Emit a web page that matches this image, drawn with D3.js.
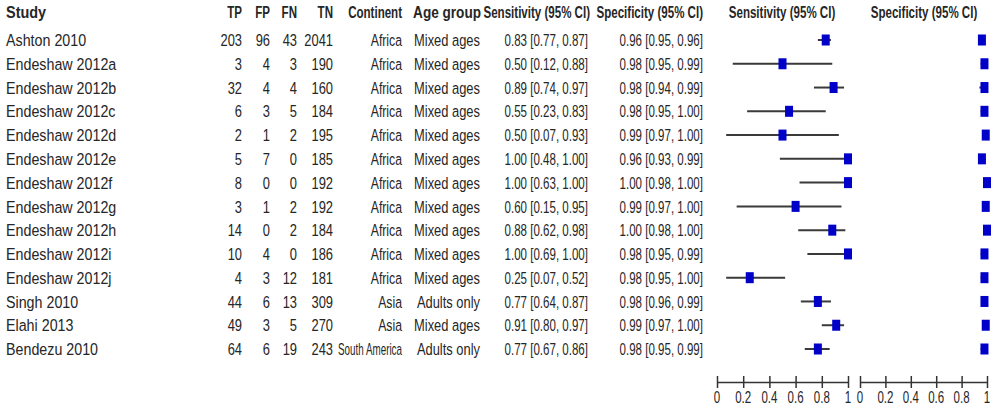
<!DOCTYPE html>
<head>
  <meta charset="utf-8">
  <script src="https://d3js.org/d3.v7.min.js"></script>
  <style>
    body { margin:0; background:#fff; }
    text { font-family: Arial, "Liberation Sans", sans-serif; fill:#262626; }
  </style>
</head>

<body>
  <script>
    var width = 993, height = 408;

    var studies = ["Ashton 2010","Endeshaw 2012a","Endeshaw 2012b","Endeshaw 2012c","Endeshaw 2012d",
      "Endeshaw 2012e","Endeshaw 2012f","Endeshaw 2012g","Endeshaw 2012h","Endeshaw 2012i",
      "Endeshaw 2012j","Singh 2010","Elahi 2013","Bendezu 2010"];
    var tp = [203,3,32,6,2,5,8,3,14,10,4,44,49,64];
    var fp = [96,4,4,3,1,7,0,1,0,4,3,6,3,6];
    var fn = [43,3,4,5,2,0,0,2,2,0,12,13,5,19];
    var tn = [2041,190,160,184,195,185,192,192,184,186,181,309,270,243];
    var continent = ["Africa","Africa","Africa","Africa","Africa","Africa","Africa","Africa","Africa",
      "Africa","Africa","Asia","Asia","South America"];
    var ageGroup = ["Mixed ages","Mixed ages","Mixed ages","Mixed ages","Mixed ages","Mixed ages",
      "Mixed ages","Mixed ages","Mixed ages","Mixed ages","Mixed ages","Adults only","Mixed ages","Adults only"];
    var sens   = [0.83,0.50,0.89,0.55,0.50,1.00,1.00,0.60,0.88,1.00,0.25,0.77,0.91,0.77];
    var sensLo = [0.77,0.12,0.74,0.23,0.07,0.48,0.63,0.15,0.62,0.69,0.07,0.64,0.80,0.67];
    var sensHi = [0.87,0.88,0.97,0.83,0.93,1.00,1.00,0.95,0.98,1.00,0.52,0.87,0.97,0.86];
    var spec   = [0.96,0.98,0.98,0.98,0.99,0.96,1.00,0.99,1.00,0.98,0.98,0.98,0.99,0.98];
    var specLo = [0.95,0.95,0.94,0.95,0.97,0.93,0.98,0.97,0.98,0.95,0.95,0.96,0.97,0.95];
    var specHi = [0.96,0.99,0.99,1.00,1.00,0.99,1.00,1.00,1.00,0.99,1.00,0.99,1.00,0.99];
    var ticks = [0,0.2,0.4,0.6,0.8,1];
    var tickLabels = ["0","0.2","0.4","0.6","0.8","1"];

    var svg = d3.select("body").append("svg")
      .attr("width", width)
      .attr("height", height);

    var f2 = d3.format(".2f");
    var y = d3.scalePoint().domain(d3.range(studies.length)).range([40, 349]);
    var xSens = d3.scaleLinear().domain([0,1]).range([717, 848]);
    var xSpec = d3.scaleLinear().domain([0,1]).range([860, 987]);

    // condensed text: regular font squeezed horizontally
    function txt(x, yy, s, anchor, sx, bold, size) {
      return svg.append("text")
        .attr("transform", "translate(" + x + "," + yy + ") scale(" + sx + ",1)")
        .attr("text-anchor", anchor)
        .attr("dy", "0.36em")
        .style("font-size", (size || 17) + "px")
        .style("font-weight", bold ? "bold" : "normal")
        .text(s);
    }

    // header
    var hy = 12, hs = 0.68;
    txt(6, hy, "Study", "start", 0.85, true);
    txt(242, hy, "TP", "end", hs, true);
    txt(270, hy, "FP", "end", hs, true);
    txt(297, hy, "FN", "end", hs, true);
    txt(333, hy, "TN", "end", hs, true);
    txt(402, hy, "Continent", "end", hs, true);
    txt(481, hy, "Age group", "end", 0.8, true);
    txt(590, hy, "Sensitivity (95% CI)", "end", hs, true);
    txt(703, hy, "Specificity (95% CI)", "end", hs, true);
    txt(782, hy, "Sensitivity (95% CI)", "middle", hs, true);
    txt(924, hy, "Specificity (95% CI)", "middle", hs, true);

    var rs = 0.76, cs = 0.68;
    studies.forEach(function(s, i) {
      var yy = y(i);
      txt(6, yy, s, "start", 0.84);
      txt(242, yy, tp[i], "end", rs);
      txt(270, yy, fp[i], "end", rs);
      txt(297, yy, fn[i], "end", rs);
      txt(333, yy, tn[i], "end", rs);
      // continent: squeeze long names to fit the column
      var c = txt(402, yy, continent[i], "end", 1);
      var w = c.node().getComputedTextLength();
      c.attr("transform", "translate(402," + yy + ") scale(" + Math.min(0.72, 64 / w) + ",1)");
      txt(480, yy, ageGroup[i], "end", rs);
      txt(588, yy, f2(sens[i]) + " [" + f2(sensLo[i]) + ", " + f2(sensHi[i]) + "]", "end", cs);
      txt(703, yy, f2(spec[i]) + " [" + f2(specLo[i]) + ", " + f2(specHi[i]) + "]", "end", cs);
    });

    function forest(x, est, lo, hi) {
      var g = svg.append("g");
      g.selectAll("line.ci").data(studies).enter().append("line")
        .attr("x1", function(d, i) { return x(lo[i]); })
        .attr("x2", function(d, i) { return x(hi[i]); })
        .attr("y1", function(d, i) { return y(i); })
        .attr("y2", function(d, i) { return y(i); })
        .style("stroke", "#3a3a3a")
        .style("stroke-width", 2);
      g.selectAll("rect.est").data(studies).enter().append("rect")
        .attr("x", function(d, i) { return x(est[i]) - 4; })
        .attr("y", function(d, i) { return y(i) - 5.5; })
        .attr("width", 8)
        .attr("height", 11)
        .style("fill", "#0000c8");

      var axis = d3.axisBottom(x).tickValues(ticks).tickSize(0)
        .tickFormat(function(d, i) { return tickLabels[i]; });
      var ag = svg.append("g").attr("transform", "translate(0,382)").call(axis);
      ag.select(".domain").style("stroke", "#333").style("stroke-width", 1.5);
      ag.selectAll(".tick text").remove();
      ag.selectAll(".tick").append("line")
        .attr("y1", -6).attr("y2", 6)
        .style("stroke", "#333").style("stroke-width", 1.5);
      ticks.forEach(function(t, i) {
        txt(x(t), 397, tickLabels[i], "middle", 0.72, false, 16);
      });
    }
    forest(xSens, sens, sensLo, sensHi);
    forest(xSpec, spec, specLo, specHi);
  </script>
</body>

</html>
